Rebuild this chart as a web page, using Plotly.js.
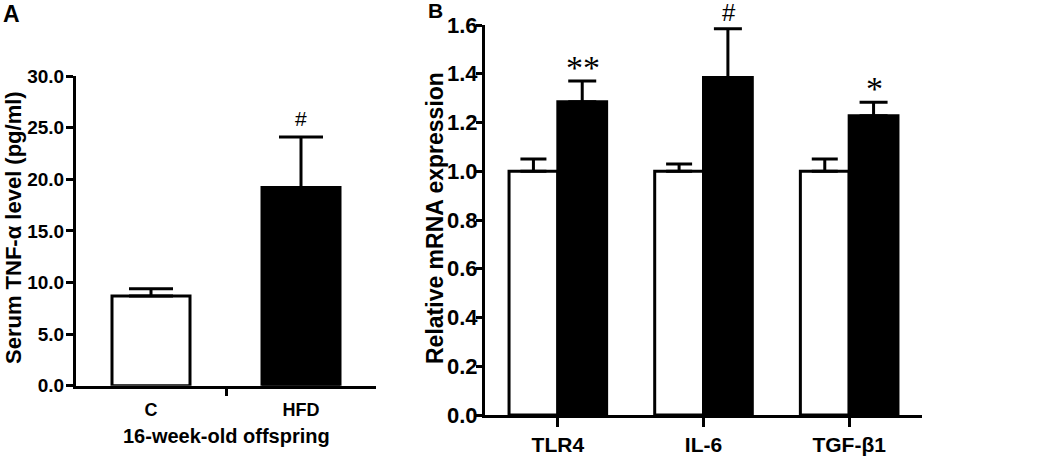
<!DOCTYPE html>
<html>
<head>
<meta charset="utf-8">
<script src="https://cdn.plot.ly/plotly-3.0.1.min.js"></script>
<style>html,body{margin:0;padding:0;background:#fff;}#chart{width:1050px;height:462px;}</style>
</head>
<body>
<div id="chart"></div>
<script>
// ---- data ----
const catsA = ['C', 'HFD'];
const valsA = [8.7, 19.2];
const errA = [0.7, 4.9];
const sigA = ['', '#'];
const ticksA = [0, 5, 10, 15, 20, 25, 30];

const catsB = ['TLR4', 'IL-6', 'TGF-β1'];
const ctrlB = [1.0, 1.0, 1.0];
const ctrlErrB = [0.05, 0.03, 0.05];
const hfdB = [1.285, 1.385, 1.228];
const hfdErrB = [0.085, 0.2, 0.055];
const sigB = ['**', '#', '*'];
const ticksB = [0, 0.2, 0.4, 0.6, 0.8, 1.0, 1.2, 1.4, 1.6];

// ---- helpers ----
const W = 1050, H = 462;
const px = x => x / W;
const py = y => 1 - y / H;
const FONT = 'Liberation Sans, Arial, sans-serif';
const SERIF = 'Liberation Serif, Times New Roman, serif';
const zeros = a => a.map(() => 0);

const traces = [
  {
    type: 'bar', x: catsA, y: valsA, xaxis: 'x', yaxis: 'y',
    width: 0.52,
    marker: {color: ['#ffffff', '#000000'], line: {color: '#000', width: 3}},
    error_y: {type: 'data', symmetric: false, array: errA, arrayminus: zeros(errA),
              color: '#000', thickness: 3, width: 22},
    showlegend: false, hoverinfo: 'skip'
  },
  {
    type: 'bar', x: catsB, y: ctrlB, xaxis: 'x2', yaxis: 'y2', name: 'C',
    marker: {color: '#ffffff', line: {color: '#000', width: 3}},
    error_y: {type: 'data', symmetric: false, array: ctrlErrB, arrayminus: zeros(ctrlErrB),
              color: '#000', thickness: 3, width: 13},
    showlegend: false, hoverinfo: 'skip'
  },
  {
    type: 'bar', x: catsB, y: hfdB, xaxis: 'x2', yaxis: 'y2', name: 'HFD',
    marker: {color: '#000000', line: {color: '#000', width: 3}},
    error_y: {type: 'data', symmetric: false, array: hfdErrB, arrayminus: zeros(hfdErrB),
              color: '#000', thickness: 3, width: 14},
    showlegend: false, hoverinfo: 'skip'
  }
];

const annotations = [];
// panel labels
annotations.push({xref: 'paper', yref: 'paper', x: px(1), y: py(-1), xanchor: 'left', yanchor: 'top',
  text: 'A', showarrow: false, font: {family: FONT, size: 23, color: '#000', weight: 'bold'}});
annotations.push({xref: 'paper', yref: 'paper', x: px(426), y: py(-3), xanchor: 'left', yanchor: 'top',
  text: 'B', showarrow: false, font: {family: FONT, size: 21, color: '#000', weight: 'bold'}});
// y titles
annotations.push({xref: 'paper', yref: 'paper', x: px(14), y: py(228), xanchor: 'center', yanchor: 'middle',
  textangle: -90, text: 'Serum TNF-α level (pg/ml)', showarrow: false,
  font: {family: FONT, size: 22, color: '#000', weight: 'bold'}});
annotations.push({xref: 'paper', yref: 'paper', x: px(435), y: py(218), xanchor: 'center', yanchor: 'middle',
  textangle: -90, text: 'Relative mRNA expression', showarrow: false,
  font: {family: FONT, size: 23, color: '#000', weight: 'bold'}});
// x title A
annotations.push({xref: 'paper', yref: 'paper', x: px(226), y: py(436), xanchor: 'center', yanchor: 'middle',
  text: '16-week-old offspring', showarrow: false,
  font: {family: FONT, size: 20, color: '#000', weight: 'bold'}});
// significance marks
catsA.forEach((c, i) => {
  if (!sigA[i]) return;
  annotations.push({xref: 'x', yref: 'y', x: c, y: valsA[i] + errA[i], yanchor: 'bottom', yshift: 5,
    text: sigA[i], showarrow: false, font: {family: FONT, size: 21, color: '#000'}});
});
catsB.forEach((c, i) => {
  const isStar = sigB[i].indexOf('*') >= 0;
  annotations.push({xref: 'x2', yref: 'y2', x: c, xshift: 25, y: hfdB[i] + hfdErrB[i], yanchor: 'bottom',
    yshift: isStar ? -7 : 1,
    text: sigB[i], showarrow: false,
    font: {family: isStar ? SERIF : FONT, size: isStar ? 34 : 24, color: '#000'}});
});

const axisCommon = {
  showgrid: false, zeroline: false, showline: true, linecolor: '#000', linewidth: 3,
  tickcolor: '#000', tickwidth: 3, fixedrange: true
};

const layout = {
  width: W, height: H,
  margin: {l: 0, r: 0, t: 0, b: 0, pad: 0},
  paper_bgcolor: '#fff', plot_bgcolor: 'rgba(0,0,0,0)',
  barmode: 'group', bargap: 0.33, bargroupgap: 0,
  showlegend: false,
  xaxis: Object.assign({}, axisCommon, {
    domain: [px(76), px(376)], anchor: 'y', type: 'category', range: [-0.5, 1.5],
    ticks: '', ticklabelstandoff: 6,
    tickfont: {family: FONT, size: 18, color: '#000', weight: 'bold'}
  }),
  xaxis3: {
    domain: [px(76), px(376)], anchor: 'y', overlaying: 'x', type: 'linear', range: [-0.5, 1.5],
    tickmode: 'array', tickvals: [0.5], showticklabels: false, ticks: 'outside', ticklen: 9,
    tickwidth: 3, tickcolor: '#000', showgrid: false, zeroline: false, showline: false, fixedrange: true
  },
  yaxis: Object.assign({}, axisCommon, {
    domain: [py(385.7), py(76)], anchor: 'x', range: [0, 30],
    tickmode: 'array', tickvals: ticksA, tickformat: '.1f',
    ticks: 'outside', ticklen: 7, ticklabelstandoff: -2,
    tickfont: {family: FONT, size: 19, color: '#000', weight: 'bold'}
  }),
  xaxis2: Object.assign({}, axisCommon, {
    domain: [px(485), px(922)], anchor: 'y2', type: 'category', range: [-0.5, 2.5],
    ticks: 'outside', ticklen: 9,
    tickfont: {family: FONT, size: 21, color: '#000', weight: 'bold'}
  }),
  yaxis2: Object.assign({}, axisCommon, {
    domain: [py(415), py(25)], anchor: 'x2', range: [0, 1.6],
    tickmode: 'array', tickvals: ticksB, tickformat: '.1f',
    ticks: 'outside', ticklen: 6, ticklabelstandoff: -6,
    tickfont: {family: FONT, size: 22, color: '#000', weight: 'bold'}
  }),
  annotations: annotations
};

// dummy trace to activate the overlay tick axis
traces.push({type: 'scatter', x: [0.5], y: [0], xaxis: 'x3', yaxis: 'y', mode: 'none',
  showlegend: false, hoverinfo: 'skip'});

Plotly.newPlot('chart', traces, layout, {staticPlot: true, displayModeBar: false});
</script>
</body>
</html>
